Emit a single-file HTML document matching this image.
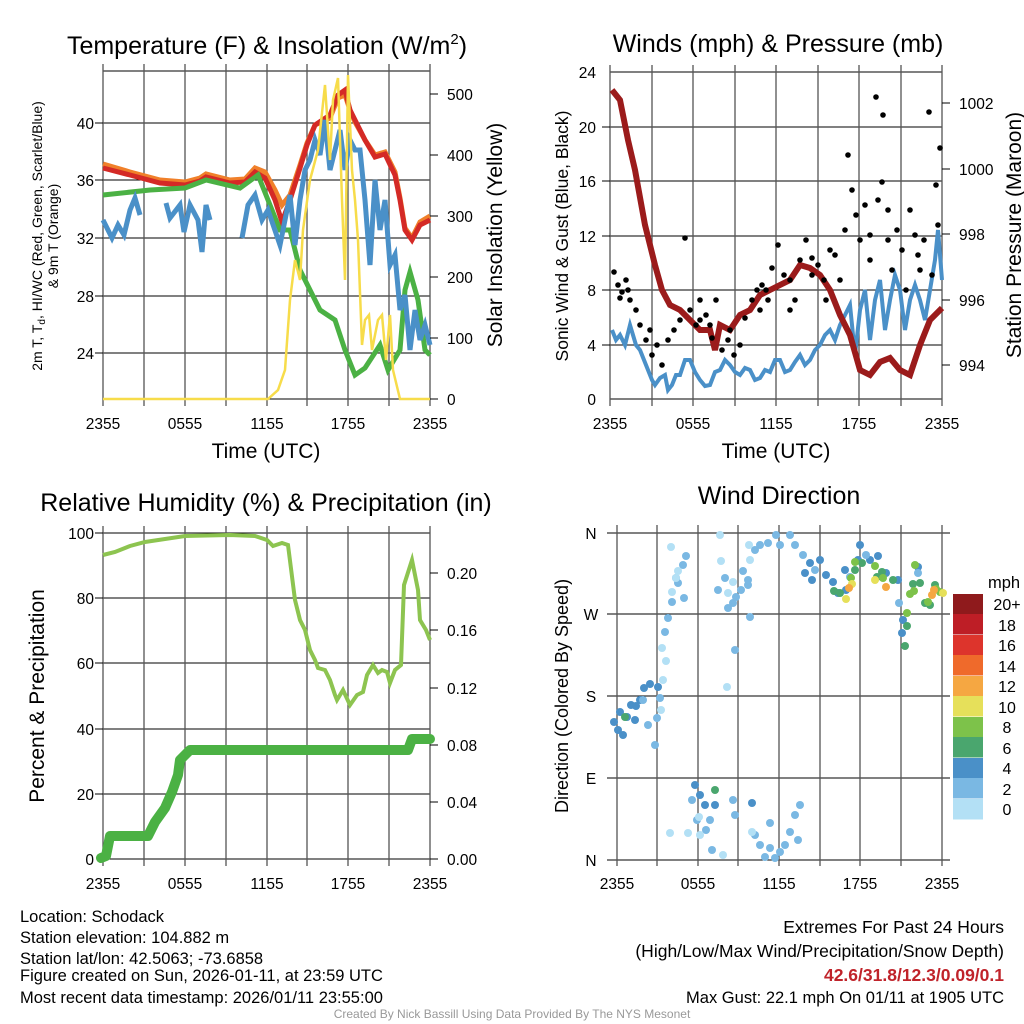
<!DOCTYPE html>
<html><head><meta charset="utf-8"><style>
body{margin:0;background:#fff;}
svg{display:block;font-family:"Liberation Sans",sans-serif;}
.t{font-size:15.5px;}
</style></head><body>
<svg width="1024" height="1024" viewBox="0 0 1024 1024">
<!-- ============ PANEL 1 ============ -->
<text x="267" y="54" font-size="25" text-anchor="middle">Temperature (F) &amp; Insolation (W/m<tspan dy="-10" font-size="15">2</tspan><tspan dy="10">)</tspan></text>
<g fill="none">
<rect x="103" y="71" width="327" height="328" stroke="#000"/>
<g stroke="#000" stroke-width="1">
<line x1="103" y1="123" x2="430" y2="123"/><line x1="103" y1="180" x2="430" y2="180"/><line x1="103" y1="238" x2="430" y2="238"/><line x1="103" y1="296" x2="430" y2="296"/><line x1="103" y1="353" x2="430" y2="353"/>
</g>
<g stroke="#555" stroke-width="1.3">
<line x1="144" y1="64" x2="144" y2="406"/><line x1="185" y1="64" x2="185" y2="406"/><line x1="226" y1="64" x2="226" y2="406"/><line x1="267" y1="64" x2="267" y2="406"/><line x1="307" y1="64" x2="307" y2="406"/><line x1="348" y1="64" x2="348" y2="406"/><line x1="389" y1="64" x2="389" y2="406"/><line x1="430" y1="64" x2="430" y2="406"/><line x1="103" y1="64" x2="103" y2="406"/>
</g>
<polyline stroke="#f0802a" stroke-width="5" points="103,164 130,172 160,180 185,182 200,178 206,174 230,180 245,179 255,168 265,172 275,190 282,205 290,195 300,165 307,143 315,125 330,118 338,98 345,95 350,110 355,122 365,140 375,155 385,152 395,172 400,198 405,228 412,238 420,222 430,216"/>
<polyline stroke="#d42a26" stroke-width="5" points="103,168 130,175 160,183 185,185 200,181 206,177 230,183 245,182 255,172 265,178 275,200 282,222 290,200 300,168 307,145 315,125 330,115 338,95 345,90 350,110 355,120 365,140 375,157 385,154 395,175 400,200 405,230 412,240 420,225 430,220"/>
<polyline stroke="#4bb144" stroke-width="5" points="103,195 150,190 185,188 206,180 240,188 258,175 268,200 280,230 290,230 300,270 310,290 320,310 335,320 345,350 355,375 365,368 380,345 388,370 400,350 405,290 410,272 418,300 425,350 430,355"/>
<polyline stroke="#4a90c8" stroke-width="5" points="103,220 108,230 112,238 118,225 124,235 130,210 135,198 140,215"/>
<polyline stroke="#4a90c8" stroke-width="5" points="166,203 170,218 180,205 184,232 190,205 198,220 202,252 206,205 210,220"/>
<polyline stroke="#4a90c8" stroke-width="5" points="242,238 248,205 255,195 262,220 268,210 280,245 285,220 290,195 295,245 300,200 305,170 310,160 315,140 320,155 325,120 330,170 335,150 340,130 345,170 350,140 355,150 360,150 365,200 370,265 375,180 380,230 385,200 390,265 395,255 400,310 405,295 410,350 415,310 420,340 425,325 430,345"/>
<polyline stroke="#f7dc4a" stroke-width="2.5" points="103,399 268,399 278,390 285,370 290,300 295,260 300,280 303,230 310,180 318,150 325,85 330,160 333,100 338,78 342,200 345,280 348,75 352,170 355,200 358,240 362,345 365,320 369,315 372,350 378,320 382,315 386,360 390,315 393,370 400,399 430,399"/>
</g>
<g class="t" text-anchor="end"><text x="94" y="129">40</text><text x="94" y="186">36</text><text x="94" y="244">32</text><text x="94" y="302">28</text><text x="94" y="359">24</text></g>
<g class="t"><text x="447" y="405">0</text><text x="447" y="344">100</text><text x="447" y="283">200</text><text x="447" y="222">300</text><text x="447" y="161">400</text><text x="447" y="100">500</text></g>
<g stroke="#000"><line x1="430" y1="399" x2="438" y2="399"/><line x1="430" y1="338" x2="438" y2="338"/><line x1="430" y1="277" x2="438" y2="277"/><line x1="430" y1="216" x2="438" y2="216"/><line x1="430" y1="155" x2="438" y2="155"/><line x1="430" y1="94" x2="438" y2="94"/><line x1="95" y1="123" x2="103" y2="123"/><line x1="95" y1="180" x2="103" y2="180"/><line x1="95" y1="238" x2="103" y2="238"/><line x1="95" y1="296" x2="103" y2="296"/><line x1="95" y1="353" x2="103" y2="353"/></g>
<g class="t" text-anchor="middle"><text x="103" y="429">2355</text><text x="185" y="429">0555</text><text x="267" y="429">1155</text><text x="348" y="429">1755</text><text x="430" y="429">2355</text></g>
<text x="266" y="458" font-size="21" text-anchor="middle">Time (UTC)</text>
<text transform="translate(42,236) rotate(-90)" font-size="14" text-anchor="middle">2m T, T<tspan font-size="10" dy="3">d</tspan><tspan dy="-3">, HI/WC (Red, Green, Scarlet/Blue)</tspan></text>
<text transform="translate(58,236) rotate(-90)" font-size="14" text-anchor="middle">&amp; 9m T (Orange)</text>
<text transform="translate(502,235) rotate(-90)" font-size="21" text-anchor="middle">Solar Insolation (Yellow)</text>

<!-- ============ PANEL 2 ============ -->
<text x="778" y="52" font-size="25" text-anchor="middle">Winds (mph) &amp; Pressure (mb)</text>
<g fill="none">
<rect x="610" y="72" width="332" height="327" stroke="#000"/>
<g stroke="#000"><line x1="610" y1="127" x2="942" y2="127"/><line x1="610" y1="181" x2="942" y2="181"/><line x1="610" y1="236" x2="942" y2="236"/><line x1="610" y1="290" x2="942" y2="290"/><line x1="610" y1="345" x2="942" y2="345"/></g>
<g stroke="#555" stroke-width="1.3"><line x1="652" y1="65" x2="652" y2="406"/><line x1="693" y1="65" x2="693" y2="406"/><line x1="735" y1="65" x2="735" y2="406"/><line x1="776" y1="65" x2="776" y2="406"/><line x1="818" y1="65" x2="818" y2="406"/><line x1="859" y1="65" x2="859" y2="406"/><line x1="901" y1="65" x2="901" y2="406"/><line x1="610" y1="65" x2="610" y2="406"/><line x1="942" y1="65" x2="942" y2="406"/></g>
<polyline stroke="#4a90c8" stroke-width="4" points="612,330 616,340 620,335 625,345 630,325 636,345 640,350 644,360 648,370 652,380 655,385 660,378 665,375 668,390 672,385 676,375 680,375 685,360 690,360 695,372 700,380 705,386 710,385 715,372 720,370 725,360 730,365 735,372 740,375 745,368 750,370 755,380 760,378 765,370 770,372 775,360 780,360 785,372 790,370 795,362 800,355 805,365 810,360 815,350 820,345 825,335 830,330 835,340 840,325 845,315 850,305 855,355 860,310 865,290 870,340 875,300 880,280 885,330 890,300 895,275 900,290 905,330 910,300 915,285 920,300 925,320 930,290 935,260 938,230 942,280"/>
<polyline stroke="#9b1b1b" stroke-width="6" points="612,90 620,100 628,140 635,170 645,225 655,265 662,290 670,305 680,310 690,320 700,330 710,330 715,350 720,325 730,330 740,315 750,310 760,295 770,290 780,285 790,280 800,265 810,268 820,275 830,290 840,315 850,335 860,370 870,375 880,362 890,358 900,370 910,375 920,345 930,320 942,308"/>
</g>
<g fill="#000">
<circle cx="614" cy="272" r="2.8"/><circle cx="618" cy="285" r="2.8"/><circle cx="622" cy="292" r="2.8"/><circle cx="626" cy="280" r="2.8"/><circle cx="630" cy="300" r="2.8"/><circle cx="636" cy="310" r="2.8"/><circle cx="640" cy="325" r="2.8"/><circle cx="646" cy="340" r="2.8"/><circle cx="652" cy="355" r="2.8"/><circle cx="657" cy="345" r="2.8"/><circle cx="662" cy="365" r="2.8"/><circle cx="668" cy="340" r="2.8"/><circle cx="674" cy="330" r="2.8"/><circle cx="680" cy="320" r="2.8"/><circle cx="685" cy="238" r="2.8"/><circle cx="690" cy="310" r="2.8"/><circle cx="696" cy="325" r="2.8"/><circle cx="700" cy="300" r="2.8"/><circle cx="706" cy="315" r="2.8"/><circle cx="712" cy="338" r="2.8"/><circle cx="716" cy="300" r="2.8"/><circle cx="722" cy="350" r="2.8"/><circle cx="728" cy="340" r="2.8"/><circle cx="734" cy="355" r="2.8"/><circle cx="740" cy="345" r="2.8"/><circle cx="745" cy="318" r="2.8"/><circle cx="752" cy="300" r="2.8"/><circle cx="757" cy="290" r="2.8"/><circle cx="762" cy="285" r="2.8"/><circle cx="768" cy="300" r="2.8"/><circle cx="772" cy="268" r="2.8"/><circle cx="778" cy="245" r="2.8"/><circle cx="784" cy="275" r="2.8"/><circle cx="790" cy="310" r="2.8"/><circle cx="795" cy="300" r="2.8"/><circle cx="800" cy="260" r="2.8"/><circle cx="806" cy="240" r="2.8"/><circle cx="812" cy="275" r="2.8"/><circle cx="818" cy="265" r="2.8"/><circle cx="824" cy="280" r="2.8"/><circle cx="830" cy="250" r="2.8"/><circle cx="835" cy="255" r="2.8"/><circle cx="840" cy="280" r="2.8"/><circle cx="845" cy="230" r="2.8"/><circle cx="848" cy="155" r="2.8"/><circle cx="852" cy="190" r="2.8"/><circle cx="856" cy="215" r="2.8"/><circle cx="860" cy="240" r="2.8"/><circle cx="865" cy="205" r="2.8"/><circle cx="870" cy="260" r="2.8"/><circle cx="876" cy="97" r="2.8"/><circle cx="878" cy="200" r="2.8"/><circle cx="882" cy="182" r="2.8"/><circle cx="883" cy="115" r="2.8"/><circle cx="888" cy="240" r="2.8"/><circle cx="892" cy="270" r="2.8"/><circle cx="897" cy="230" r="2.8"/><circle cx="902" cy="250" r="2.8"/><circle cx="906" cy="290" r="2.8"/><circle cx="910" cy="210" r="2.8"/><circle cx="915" cy="235" r="2.8"/><circle cx="920" cy="270" r="2.8"/><circle cx="924" cy="240" r="2.8"/><circle cx="929" cy="112" r="2.8"/><circle cx="932" cy="275" r="2.8"/><circle cx="936" cy="185" r="2.8"/><circle cx="940" cy="148" r="2.8"/><circle cx="938" cy="225" r="2.8"/><circle cx="700" cy="320" r="2.8"/><circle cx="760" cy="310" r="2.8"/><circle cx="826" cy="300" r="2.8"/><circle cx="870" cy="235" r="2.8"/><circle cx="620" cy="298" r="2.8"/><circle cx="628" cy="290" r="2.8"/><circle cx="650" cy="330" r="2.8"/><circle cx="710" cy="325" r="2.8"/><circle cx="730" cy="330" r="2.8"/><circle cx="766" cy="290" r="2.8"/><circle cx="790" cy="280" r="2.8"/><circle cx="812" cy="258" r="2.8"/><circle cx="888" cy="210" r="2.8"/><circle cx="918" cy="255" r="2.8"/>
</g>
<g class="t" text-anchor="end"><text x="596" y="405">0</text><text x="596" y="351">4</text><text x="596" y="296">8</text><text x="596" y="242">12</text><text x="596" y="187">16</text><text x="596" y="133">20</text><text x="596" y="78">24</text></g>
<g class="t"><text x="959" y="371">994</text><text x="959" y="306">996</text><text x="959" y="240">998</text><text x="959" y="175">1000</text><text x="959" y="109">1002</text></g>
<g stroke="#000"><line x1="942" y1="365" x2="950" y2="365"/><line x1="942" y1="300" x2="950" y2="300"/><line x1="942" y1="234" x2="950" y2="234"/><line x1="942" y1="169" x2="950" y2="169"/><line x1="942" y1="103" x2="950" y2="103"/><line x1="602" y1="127" x2="610" y2="127"/><line x1="602" y1="181" x2="610" y2="181"/><line x1="602" y1="236" x2="610" y2="236"/><line x1="602" y1="290" x2="610" y2="290"/><line x1="602" y1="345" x2="610" y2="345"/></g>
<g class="t" text-anchor="middle"><text x="610" y="429">2355</text><text x="693" y="429">0555</text><text x="776" y="429">1155</text><text x="859" y="429">1755</text><text x="942" y="429">2355</text></g>
<text x="776" y="458" font-size="21" text-anchor="middle">Time (UTC)</text>
<text transform="translate(568,236) rotate(-90)" font-size="17.5" text-anchor="middle">Sonic Wind &amp; Gust (Blue, Black)</text>
<text transform="translate(1021,235) rotate(-90)" font-size="21" text-anchor="middle">Station Pressure (Maroon)</text>

<!-- ============ PANEL 3 ============ -->
<text x="266" y="511" font-size="25" text-anchor="middle">Relative Humidity (%) &amp; Precipitation (in)</text>
<g fill="none">
<rect x="103" y="533" width="327" height="326" stroke="#000"/>
<g stroke="#000"><line x1="103" y1="598" x2="430" y2="598"/><line x1="103" y1="663" x2="430" y2="663"/><line x1="103" y1="729" x2="430" y2="729"/><line x1="103" y1="794" x2="430" y2="794"/></g>
<g stroke="#555" stroke-width="1.3"><line x1="144" y1="526" x2="144" y2="866"/><line x1="185" y1="526" x2="185" y2="866"/><line x1="226" y1="526" x2="226" y2="866"/><line x1="267" y1="526" x2="267" y2="866"/><line x1="307" y1="526" x2="307" y2="866"/><line x1="348" y1="526" x2="348" y2="866"/><line x1="389" y1="526" x2="389" y2="866"/><line x1="103" y1="526" x2="103" y2="866"/><line x1="430" y1="526" x2="430" y2="866"/></g>
<polyline stroke="#8dc450" stroke-width="4" points="103,555 115,552 130,546 145,542 165,539 185,536 230,535 255,536 267,540 273,546 282,543 288,545 295,600 300,620 305,630 310,650 315,660 318,668 325,670 330,680 335,695 337,700 343,690 350,705 357,695 363,692 367,675 373,665 378,673 382,670 387,672 390,683 395,670 401,665 404,585 412,560 418,590 420,620 426,630 430,640"/>
<polyline stroke="#4bb144" stroke-width="10" stroke-linejoin="round" stroke-linecap="round" points="101,858 106,856 110,836 148,836 155,822 165,808 172,792 178,775 180,760 185,755 190,750 200,750 408,750 412,739 430,739"/>
</g>
<g class="t" text-anchor="end"><text x="94" y="865">0</text><text x="94" y="800">20</text><text x="94" y="735">40</text><text x="94" y="669">60</text><text x="94" y="604">80</text><text x="94" y="539">100</text></g>
<g class="t"><text x="447" y="865">0.00</text><text x="447" y="808">0.04</text><text x="447" y="751">0.08</text><text x="447" y="694">0.12</text><text x="447" y="636">0.16</text><text x="447" y="579">0.20</text></g>
<g stroke="#000"><line x1="430" y1="859" x2="438" y2="859"/><line x1="430" y1="802" x2="438" y2="802"/><line x1="430" y1="745" x2="438" y2="745"/><line x1="430" y1="688" x2="438" y2="688"/><line x1="430" y1="630" x2="438" y2="630"/><line x1="430" y1="573" x2="438" y2="573"/><line x1="95" y1="598" x2="103" y2="598"/><line x1="95" y1="663" x2="103" y2="663"/><line x1="95" y1="729" x2="103" y2="729"/><line x1="95" y1="794" x2="103" y2="794"/><line x1="95" y1="533" x2="103" y2="533"/></g>
<g class="t" text-anchor="middle"><text x="103" y="889">2355</text><text x="185" y="889">0555</text><text x="267" y="889">1155</text><text x="348" y="889">1755</text><text x="430" y="889">2355</text></g>
<text transform="translate(44,696) rotate(-90)" font-size="21" text-anchor="middle">Percent &amp; Precipitation</text>

<!-- ============ PANEL 4 ============ -->
<text x="779" y="504" font-size="25" text-anchor="middle">Wind Direction</text>
<g stroke="#000"><line x1="607" y1="533" x2="950" y2="533"/><line x1="607" y1="614" x2="950" y2="614"/><line x1="607" y1="696" x2="950" y2="696"/><line x1="607" y1="778" x2="950" y2="778"/><line x1="607" y1="860" x2="950" y2="860"/></g>
<g stroke="#555" stroke-width="1.3"><line x1="617" y1="525" x2="617" y2="866"/><line x1="657" y1="525" x2="657" y2="866"/><line x1="698" y1="525" x2="698" y2="866"/><line x1="738" y1="525" x2="738" y2="866"/><line x1="779" y1="525" x2="779" y2="866"/><line x1="820" y1="525" x2="820" y2="866"/><line x1="860" y1="525" x2="860" y2="866"/><line x1="901" y1="525" x2="901" y2="866"/><line x1="942" y1="525" x2="942" y2="866"/></g>
<g class="t" text-anchor="middle"><text x="591" y="539">N</text><text x="591" y="620">W</text><text x="591" y="702">S</text><text x="591" y="784">E</text><text x="591" y="866">N</text></g>
<g class="t" text-anchor="middle"><text x="617" y="889">2355</text><text x="698" y="889">0555</text><text x="779" y="889">1155</text><text x="860" y="889">1755</text><text x="942" y="889">2355</text></g>
<text transform="translate(568,696) rotate(-90)" font-size="18" text-anchor="middle">Direction (Colored By Speed)</text>
<g>
<g fill="#4a90c8"><circle cx="614" cy="722" r="4"/><circle cx="618" cy="730" r="4"/><circle cx="620" cy="712" r="4"/><circle cx="623" cy="735" r="4"/><circle cx="627" cy="717" r="4"/><circle cx="631" cy="705" r="4"/><circle cx="635" cy="720" r="4"/><circle cx="640" cy="700" r="4"/><circle cx="644" cy="688" r="4"/><circle cx="650" cy="684" r="4"/><circle cx="636" cy="706" r="4"/><circle cx="658" cy="687" r="4"/><circle cx="695" cy="785" r="4"/><circle cx="700" cy="795" r="4"/><circle cx="705" cy="805" r="4"/><circle cx="715" cy="805" r="4"/><circle cx="752" cy="803" r="4"/><circle cx="805" cy="573" r="4"/><circle cx="810" cy="563" r="4"/><circle cx="820" cy="560" r="4"/><circle cx="826" cy="575" r="4"/><circle cx="833" cy="582" r="4"/><circle cx="845" cy="570" r="4"/><circle cx="858" cy="560" r="4"/><circle cx="860" cy="545" r="4"/><circle cx="870" cy="560" r="4"/><circle cx="878" cy="556" r="4"/><circle cx="886" cy="573" r="4"/><circle cx="898" cy="580" r="4"/><circle cx="903" cy="620" r="4"/><circle cx="902" cy="633" r="4"/><circle cx="918" cy="567" r="4"/><circle cx="838" cy="593" r="4"/><circle cx="846" cy="590" r="4"/><circle cx="812" cy="580" r="4"/></g>
<g fill="#7ab8e3"><circle cx="643" cy="700" r="4"/><circle cx="648" cy="725" r="4"/><circle cx="655" cy="745" r="4"/><circle cx="657" cy="718" r="4"/><circle cx="660" cy="698" r="4"/><circle cx="665" cy="632" r="4"/><circle cx="668" cy="618" r="4"/><circle cx="672" cy="602" r="4"/><circle cx="678" cy="583" r="4"/><circle cx="683" cy="565" r="4"/><circle cx="686" cy="556" r="4"/><circle cx="676" cy="578" r="4"/><circle cx="684" cy="598" r="4"/><circle cx="692" cy="800" r="4"/><circle cx="697" cy="820" r="4"/><circle cx="706" cy="830" r="4"/><circle cx="710" cy="820" r="4"/><circle cx="712" cy="850" r="4"/><circle cx="718" cy="590" r="4"/><circle cx="725" cy="578" r="4"/><circle cx="728" cy="608" r="4"/><circle cx="733" cy="603" r="4"/><circle cx="741" cy="590" r="4"/><circle cx="743" cy="571" r="4"/><circle cx="748" cy="585" r="4"/><circle cx="750" cy="617" r="4"/><circle cx="735" cy="650" r="4"/><circle cx="733" cy="800" r="4"/><circle cx="735" cy="815" r="4"/><circle cx="755" cy="835" r="4"/><circle cx="760" cy="845" r="4"/><circle cx="765" cy="857" r="4"/><circle cx="770" cy="848" r="4"/><circle cx="775" cy="858" r="4"/><circle cx="780" cy="852" r="4"/><circle cx="785" cy="845" r="4"/><circle cx="790" cy="832" r="4"/><circle cx="795" cy="815" r="4"/><circle cx="800" cy="805" r="4"/><circle cx="798" cy="840" r="4"/><circle cx="770" cy="823" r="4"/><circle cx="755" cy="550" r="4"/><circle cx="760" cy="545" r="4"/><circle cx="768" cy="543" r="4"/><circle cx="776" cy="535" r="4"/><circle cx="780" cy="545" r="4"/><circle cx="790" cy="535" r="4"/><circle cx="795" cy="545" r="4"/><circle cx="803" cy="555" r="4"/><circle cx="815" cy="570" r="4"/><circle cx="850" cy="577" r="4"/><circle cx="866" cy="555" r="4"/><circle cx="899" cy="603" r="4"/><circle cx="918" cy="573" r="4"/><circle cx="736" cy="597" r="4"/><circle cx="748" cy="580" r="4"/></g>
<g fill="#b3e0f5"><circle cx="671" cy="547" r="4"/><circle cx="676" cy="578" r="4"/><circle cx="666" cy="661" r="4"/><circle cx="662" cy="648" r="4"/><circle cx="663" cy="680" r="4"/><circle cx="661" cy="710" r="4"/><circle cx="672" cy="592" r="4"/><circle cx="678" cy="571" r="4"/><circle cx="720" cy="535" r="4"/><circle cx="721" cy="561" r="4"/><circle cx="727" cy="687" r="4"/><circle cx="728" cy="593" r="4"/><circle cx="749" cy="545" r="4"/><circle cx="750" cy="560" r="4"/><circle cx="670" cy="833" r="4"/><circle cx="688" cy="833" r="4"/><circle cx="700" cy="835" r="4"/><circle cx="699" cy="817" r="4"/><circle cx="723" cy="855" r="4"/><circle cx="752" cy="832" r="4"/><circle cx="733" cy="582" r="4"/></g>
<g fill="#4aa66e"><circle cx="625" cy="717" r="4"/><circle cx="715" cy="790" r="4"/><circle cx="834" cy="591" r="4"/><circle cx="840" cy="593" r="4"/><circle cx="855" cy="570" r="4"/><circle cx="862" cy="563" r="4"/><circle cx="877" cy="577" r="4"/><circle cx="882" cy="572" r="4"/><circle cx="893" cy="580" r="4"/><circle cx="905" cy="646" r="4"/><circle cx="907" cy="626" r="4"/><circle cx="913" cy="584" r="4"/><circle cx="920" cy="583" r="4"/><circle cx="925" cy="603" r="4"/><circle cx="930" cy="605" r="4"/><circle cx="935" cy="585" r="4"/></g>
<g fill="#7dc24a"><circle cx="851" cy="578" r="4"/><circle cx="855" cy="562" r="4"/><circle cx="875" cy="566" r="4"/><circle cx="883" cy="578" r="4"/><circle cx="907" cy="613" r="4"/><circle cx="910" cy="594" r="4"/><circle cx="914" cy="591" r="4"/><circle cx="915" cy="565" r="4"/><circle cx="928" cy="602" r="4"/><circle cx="936" cy="589" r="4"/><circle cx="940" cy="592" r="4"/></g>
<g fill="#e6e05a"><circle cx="846" cy="599" r="4"/><circle cx="852" cy="584" r="4"/><circle cx="875" cy="580" r="4"/><circle cx="943" cy="593" r="4"/></g>
<g fill="#f5a742"><circle cx="849" cy="588" r="4"/><circle cx="886" cy="587" r="4"/><circle cx="932" cy="595" r="4"/><circle cx="934" cy="590" r="4"/></g>
</g>
<!-- colorbar -->
<text x="988" y="588" font-size="16.5">mph</text>
<rect x="953" y="594" width="30" height="20.5" fill="#8f1a1c"/>
<rect x="953" y="614" width="30" height="20.5" fill="#be1e26"/>
<rect x="953" y="635" width="30" height="20.5" fill="#dd342c"/>
<rect x="953" y="655" width="30" height="20.5" fill="#ef6a2b"/>
<rect x="953" y="676" width="30" height="20.5" fill="#f5a742"/>
<rect x="953" y="696" width="30" height="20.5" fill="#e6e05a"/>
<rect x="953" y="717" width="30" height="20.5" fill="#7dc24a"/>
<rect x="953" y="737" width="30" height="20.5" fill="#4aa66e"/>
<rect x="953" y="758" width="30" height="20.5" fill="#4a90c8"/>
<rect x="953" y="778" width="30" height="20.5" fill="#7ab8e3"/>
<rect x="953" y="799" width="30" height="20.5" fill="#b3e0f5"/>
<g font-size="16" text-anchor="middle"><text x="1007" y="610">20+</text><text x="1007" y="631">18</text><text x="1007" y="651">16</text><text x="1007" y="672">14</text><text x="1007" y="692">12</text><text x="1007" y="713">10</text><text x="1007" y="733">8</text><text x="1007" y="754">6</text><text x="1007" y="774">4</text><text x="1007" y="795">2</text><text x="1007" y="815">0</text></g>

<!-- footer -->
<g font-size="16.5">
<text x="20" y="922">Location: Schodack</text>
<text x="20" y="943">Station elevation: 104.882 m</text>
<text x="20" y="964">Station lat/lon: 42.5063; -73.6858</text>
<text x="20" y="981">Figure created on Sun, 2026-01-11, at 23:59 UTC</text>
<text x="20" y="1003">Most recent data timestamp: 2026/01/11 23:55:00</text>
</g>
<g font-size="17.5" text-anchor="end">
<text x="1004" y="933">Extremes For Past 24 Hours</text>
<text x="1004" y="957">(High/Low/Max Wind/Precipitation/Snow Depth)</text>
<text x="1004" y="981" fill="#c0232a" font-weight="bold">42.6/31.8/12.3/0.09/0.1</text>
<text x="1004" y="1003" font-size="16.5">Max Gust: 22.1 mph On 01/11 at 1905 UTC</text>
</g>
<text x="512" y="1018" font-size="12" fill="#999" text-anchor="middle">Created By Nick Bassill Using Data Provided By The NYS Mesonet</text>
</svg>
</body></html>
